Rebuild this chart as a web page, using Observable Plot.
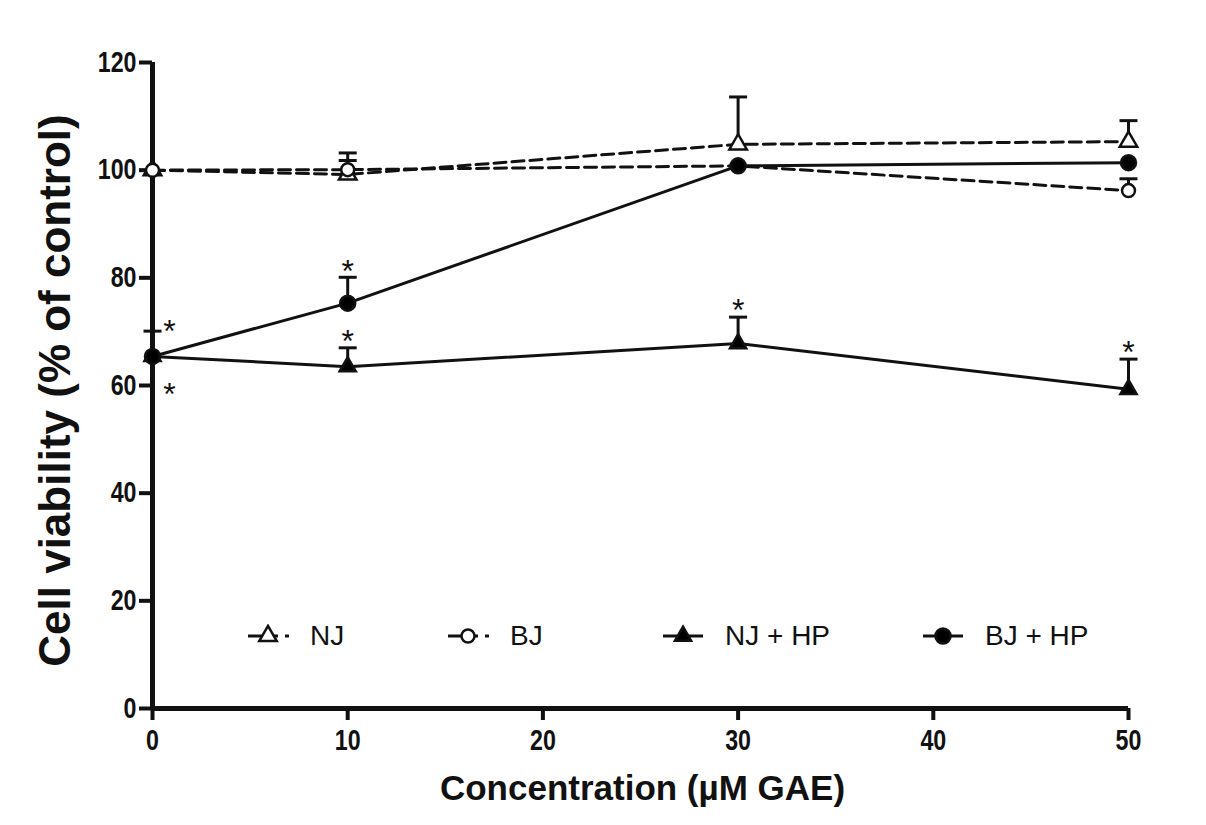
<!DOCTYPE html>
<html>
<head>
<meta charset="utf-8">
<script src="https://cdn.jsdelivr.net/npm/d3@7"></script>
<script src="https://cdn.jsdelivr.net/npm/@observablehq/plot@0.6"></script>
<style>
  html, body { margin: 0; padding: 0; background: #fff; }
  #chart { position: relative; width: 1206px; height: 825px; font-family: "Liberation Sans", Arial, sans-serif; }
  #legend { position: absolute; left: 0; top: 618px; width: 1206px; height: 36px; }
  .item { position: absolute; top: 0; display: flex; align-items: center; height: 36px; }
  .item span { font-size: 28px; margin-left: 20px; color: #111; font-family: "Liberation Sans", Arial, sans-serif; }
</style>
</head>
<body>
<div id="chart"><div id="legend"></div></div>
<script>
// Concentrations tested (µM GAE)
const concentration = [0, 10, 30, 50];

// Mean cell viability (% of control) and SEM for each treatment
const njMean   = [100, 99.2, 104.8, 105.3];
const njErr    = [0, 2.6, 8.8, 3.9];
const bjMean   = [100, 100.1, 100.8, 96.2];
const bjErr    = [0, 3.1, 0, 2.2];
const njHpMean = [65.4, 63.5, 67.8, 59.3];
const njHpErr  = [0, 3.5, 4.9, 5.6];
const bjHpMean = [65.4, 75.3, 100.8, 101.4];
const bjHpErr  = [4.7, 4.8, 0, 0];

// Significance flags (p < 0.05 vs control)
const njHpSig = [true, true, true, true];
const bjHpSig = [true, true, false, false];

const seriesNames = ["NJ", "BJ", "NJ + HP", "BJ + HP"];
const yTicks = [0, 20, 40, 60, 80, 100, 120];
const xTicks = [0, 10, 20, 30, 40, 50];

// Marker and line style per series
const styles = {
  "NJ":      {symbol: "triangle", fill: "white", r: 6.5, dash: "12,6"},
  "BJ":      {symbol: "circle",   fill: "white", r: 6.5, dash: "12,6"},
  "NJ + HP": {symbol: "triangle", fill: "black", r: 6,   dash: null},
  "BJ + HP": {symbol: "circle",   fill: "black", r: 7.5, dash: null}
};

function rows(name, means, errs, sig) {
  return concentration.map((x, i) => ({
    series: name, x, mean: means[i], err: errs[i],
    top: means[i] + errs[i], sig: sig ? sig[i] : false
  }));
}

const data = {
  "NJ": rows("NJ", njMean, njErr),
  "BJ": rows("BJ", bjMean, bjErr),
  "NJ + HP": rows("NJ + HP", njHpMean, njHpErr, njHpSig),
  "BJ + HP": rows("BJ + HP", bjHpMean, bjHpErr, bjHpSig)
};
const all = Object.values(data).flat();
const withErr = all.filter(d => d.err > 0);

// Horizontal cap for error bars
const capSymbol = {
  draw(context, size) {
    const w = Math.sqrt(size / Math.PI);
    context.moveTo(-w, 0);
    context.lineTo(w, 0);
  }
};

const stars = all.filter(d => d.sig);
const starsAbove = stars.filter(d => d.x !== 0);
const starUpperLeft = stars.filter(d => d.x === 0 && d.series === "BJ + HP");
const starLowerLeft = stars.filter(d => d.x === 0 && d.series === "NJ + HP");

const font = "'Liberation Sans', Arial, sans-serif";
const starStyle = {text: () => "*", fontSize: 32, fontFamily: font, lineAnchor: "middle", fill: "#111"};

const lineMarks = seriesNames.map(name => Plot.line(data[name], {
  x: "x", y: "mean", stroke: "#111", strokeWidth: 3,
  strokeDasharray: styles[name].dash ?? undefined
}));

const dotMarks = seriesNames.map(name => Plot.dot(data[name], {
  x: "x", y: "mean", symbol: styles[name].symbol, r: styles[name].r,
  fill: styles[name].fill, stroke: "#111", strokeWidth: 2.5
}));

const chart = Plot.plot({
  width: 1206,
  height: 825,
  marginLeft: 152,
  marginRight: 78,
  marginTop: 62,
  marginBottom: 117,
  style: {fontFamily: font, background: "white", color: "#111"},
  x: {domain: [0, 50]},
  y: {domain: [0, 120]},
  marks: [
    Plot.axisX({ticks: xTicks, tickSize: 12, tickPadding: 9, strokeWidth: 4, fontSize: 29, fontWeight: "bold", label: null}),
    Plot.axisY({ticks: yTicks, tickSize: 13, tickPadding: 3, strokeWidth: 4, fontSize: 29, fontWeight: "bold", label: null}),
    Plot.ruleX([0], {y1: 0, y2: 120, stroke: "#111", strokeWidth: 5}),
    Plot.ruleY([0], {x1: 0, x2: 50, stroke: "#111", strokeWidth: 5}),
    Plot.ruleX(withErr, {x: "x", y1: "mean", y2: "top", stroke: "#111", strokeWidth: 3}),
    Plot.dot(withErr, {x: "x", y: "top", symbol: capSymbol, r: 9, stroke: "#111", strokeWidth: 3, fill: "none"}),
    ...lineMarks,
    ...dotMarks,
    Plot.text(starsAbove, {x: "x", y: "top", dy: -6, ...starStyle}),
    Plot.text(starUpperLeft, {x: "x", y: "top", dx: 17, dy: 1, ...starStyle}),
    Plot.text(starLowerLeft, {x: "x", y: "mean", dx: 17, dy: 38, ...starStyle}),
    Plot.text(["Cell viability (% of control)"], {
      frameAnchor: "left", rotate: -90, dx: -97, dy: 5, textAnchor: "middle",
      fontSize: 44, fontWeight: "bold", fontFamily: font, fill: "#111", lineAnchor: "middle"
    }),
    Plot.text(["Concentration (\u00b5M GAE)"], {
      frameAnchor: "bottom", dy: 80, dx: 2, textAnchor: "middle",
      fontSize: 35, fontWeight: "bold", fontFamily: font, fill: "#111", lineAnchor: "middle"
    })
  ]
});

// Tick numbers use a condensed bold face: squeeze each label horizontally about its anchor
chart.querySelectorAll('g[aria-label="x-axis tick label"] text, g[aria-label="y-axis tick label"] text')
  .forEach(t => {
    const tr = t.getAttribute("transform") || "";
    t.setAttribute("transform", `${tr} scale(0.8,1)`);
  });

const root = document.getElementById("chart");
root.insertBefore(chart, root.firstChild);

// Legend row drawn inside the plot area
const legend = d3.select("#legend");
const legendLeft = [248, 448, 663, 923];
seriesNames.forEach((name, i) => {
  const st = styles[name];
  const item = legend.append("div").attr("class", "item").style("left", legendLeft[i] + "px");
  const svg = item.append("svg").attr("width", 42).attr("height", 24);
  if (st.dash) {
    svg.append("line").attr("x1", 0).attr("x2", 30).attr("y1", 12).attr("y2", 12)
      .attr("stroke", "#111").attr("stroke-width", 3);
    svg.append("line").attr("x1", 37).attr("x2", 41).attr("y1", 12).attr("y2", 12)
      .attr("stroke", "#111").attr("stroke-width", 3);
  } else {
    svg.append("line").attr("x1", 0).attr("x2", 40).attr("y1", 12).attr("y2", 12)
      .attr("stroke", "#111").attr("stroke-width", 3);
  }
  const sym = st.symbol === "triangle" ? d3.symbolTriangle : d3.symbolCircle;
  svg.append("path")
    .attr("d", d3.symbol(sym, Math.PI * st.r * st.r)())
    .attr("transform", "translate(20,12)")
    .attr("fill", st.fill).attr("stroke", "#111").attr("stroke-width", 2.5);
  item.append("span").text(name);
});
</script>
</body>
</html>
